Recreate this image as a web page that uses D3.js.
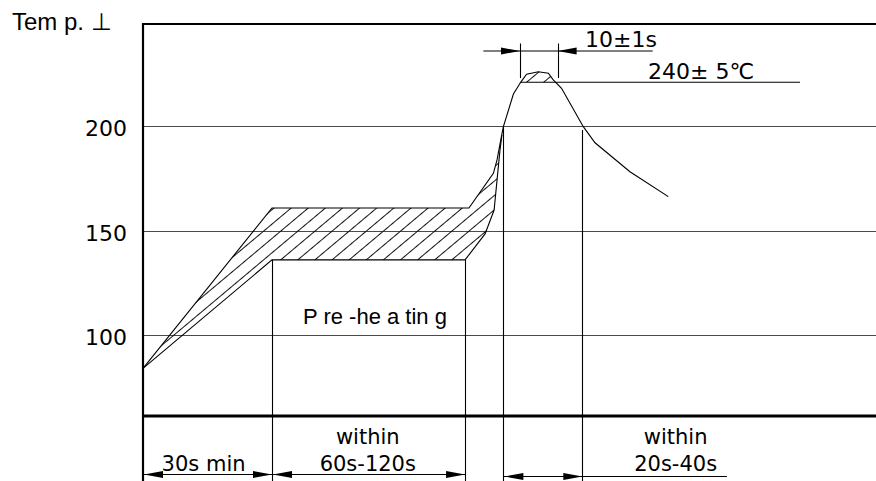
<!DOCTYPE html>
<html><head><meta charset="utf-8">
<script src="https://cdn.jsdelivr.net/npm/d3@7"></script>
<style>
html,body{margin:0;padding:0;background:#fff;}
svg{display:block;}
</style></head><body>
<svg id="chart" width="876" height="481"></svg>
<script>
// ---------------- data (time in s, temperature in °C, schematic) ----------------
const yTicks = [100, 150, 200];
const yTickLabels = ["100", "150", "200"];

// upper boundary of the tolerance band, continuing into the peak curve
const upperTime = [0, 52.8, 133.4, 143.4, 144.9, 146.8, 147.5, 151.6, 154.7, 157.0, 161.8, 165.9, 167.9, 171.3, 180.2, 185.0, 199.3, 215.0];
const upperTemp = [84.2, 160.8, 160.8, 177.3, 183.7, 195.6, 199.6, 215.2, 221.0, 224.6, 225.8, 225.1, 221.9, 217.9, 199.6, 191.9, 178.1, 166.2];
// lower boundary of the tolerance band
const lowerTime = [0, 52.8, 131.8, 140.0, 143.7, 144.9, 146.1, 146.9];
const lowerTemp = [84.2, 136.0, 136.0, 148.4, 159.8, 174.1, 188.4, 195.6];
const bandEndTime = 146.8;

// peak reference level ("240 ± 5 °C") and its leader end
const peakLevel = 220.8;
const peakLineEnd = 268.9;

// phase boundaries (s) and where their extension lines start (°C)
const phaseTimes = [0, 52.8, 131.8, 147.5, 179.8];
const phaseTops  = [null, 136.0, 136.0, 199.6, 198.0];

// dwell at peak ("10 ± 1 s")
const dwellTimes = [154.3, 169.7];
const dwellLevel = 235.7;
const dwellExtTop = 239.3, dwellExtBottom = 222.8;
const dwellLineFrom = 139.3, dwellLineTo = 208.6;

// labels
const yTitle = "Tem p. ⊥";
const preheatLabel = "P re -he a tin g";
const spanTexts = [
  {lines: ["30s min"], center: 24.8},
  {lines: ["within", "60s-120s"], center: 92.0},
  {lines: ["within", "20s-40s"], center: 218.0}
];
const reflowLeaderEnd = 239.0;
const dwellText = "10±1s", dwellTextStart = 180.9;
const peakText = "240± 5℃", peakTextStart = 206.7;

// ---------------- layout ----------------
const W = 876, H = 481;
const plotLeft = 143, plotRight = 876, plotTop = 24, plotBottom = 416;
const svg = d3.select("#chart");

const x = d3.scaleLinear().domain([0, 300]).range([plotLeft, plotRight]);
const y = d3.scaleLinear().domain([61.5, 248.6]).range([plotBottom, plotTop]);

const sans = "'DejaVu Sans', sans-serif";
const arial = "'Liberation Sans', Arial, sans-serif";
const ink = "#000";

// hatch pattern
const defs = svg.append("defs");
const pat = defs.append("pattern").attr("id", "hatch")
  .attr("patternUnits", "userSpaceOnUse").attr("width", 11).attr("height", 11)
  .attr("patternTransform", "rotate(-40)");
pat.append("line").attr("x1", -1).attr("x2", 12).attr("y1", 5.5).attr("y2", 5.5)
  .attr("stroke", "#111").attr("stroke-width", 1);

// grid lines
svg.append("g").selectAll("line").data(yTicks).join("line")
  .attr("x1", plotLeft).attr("x2", plotRight)
  .attr("y1", d => Math.round(y(d)) + 0.5).attr("y2", d => Math.round(y(d)) + 0.5)
  .attr("stroke", "#4a4a4a").attr("stroke-width", 1.2);

// tick labels
svg.append("g").selectAll("text").data(yTicks).join("text")
  .attr("x", plotLeft - 16).attr("y", d => y(d) + 10)
  .attr("text-anchor", "end").attr("font-family", sans).attr("font-size", 22)
  .attr("fill", ink).text((d, i) => yTickLabels[i]);

// y title
svg.append("text").attr("x", 12).attr("y", 30)
  .attr("font-family", arial).attr("font-size", 24).attr("fill", ink).text(yTitle);

const line = d3.line().x(d => x(d[0])).y(d => y(d[1]));
const upperPts = upperTime.map((t, i) => [t, upperTemp[i]]);
const lowerPts = lowerTime.map((t, i) => [t, lowerTemp[i]]);

// hatched tolerance band
const bandPoly = upperPts.filter(p => p[0] <= bandEndTime).concat(lowerPts.slice().reverse());
svg.append("path").attr("d", line(bandPoly) + "Z").attr("fill", "url(#hatch)").attr("stroke", "none");

// hatched cap above peak level
function clipAbove(pts, level) {
  const out = [];
  for (let i = 0; i < pts.length; i++) {
    const p = pts[i];
    if (i > 0) {
      const q = pts[i - 1];
      if ((q[1] - level) * (p[1] - level) < 0) {
        const f = (level - q[1]) / (p[1] - q[1]);
        out.push([q[0] + f * (p[0] - q[0]), level]);
      }
    }
    if (p[1] >= level) out.push(p);
  }
  return out;
}
const cap = clipAbove(upperPts, peakLevel);
svg.append("path").attr("d", line(cap) + "Z").attr("fill", "url(#hatch)").attr("stroke", "none");

// outlines
svg.append("path").attr("d", line(upperPts)).attr("fill", "none").attr("stroke", ink).attr("stroke-width", 1.1);
svg.append("path").attr("d", line(lowerPts)).attr("fill", "none").attr("stroke", ink).attr("stroke-width", 1.1);

// peak reference line
svg.append("line").attr("x1", x(cap[0][0])).attr("x2", x(peakLineEnd))
  .attr("y1", y(peakLevel)).attr("y2", y(peakLevel)).attr("stroke", ink).attr("stroke-width", 1.2);

// extension lines of phases (down through the axis)
const extBottom = H;
phaseTimes.forEach((t, i) => {
  if (phaseTops[i] === null) return;
  svg.append("line").attr("x1", Math.round(x(t)) + 0.5).attr("x2", Math.round(x(t)) + 0.5)
    .attr("y1", y(phaseTops[i])).attr("y2", extBottom).attr("stroke", ink).attr("stroke-width", 1.1);
});

// frame
svg.append("line").attr("x1", plotLeft).attr("x2", plotLeft).attr("y1", plotTop - 1).attr("y2", extBottom)
  .attr("stroke", ink).attr("stroke-width", 2.2);
svg.append("line").attr("x1", plotLeft - 1).attr("x2", plotRight).attr("y1", plotTop).attr("y2", plotTop)
  .attr("stroke", ink).attr("stroke-width", 2);
svg.append("line").attr("x1", plotLeft - 1).attr("x2", plotRight).attr("y1", plotBottom).attr("y2", plotBottom)
  .attr("stroke", ink).attr("stroke-width", 3);

// arrowheads
function arrow(tipX, yy, dir) {
  const len = 19, hw = 3.5;
  const bx = tipX - dir * len;
  svg.append("path").attr("d", `M${tipX},${yy}L${bx},${yy - hw}L${bx},${yy + hw}Z`).attr("fill", ink);
}

// bottom dimension lines
const dimY1 = 474.5, dimY2 = 476.5;
svg.append("line").attr("x1", x(phaseTimes[0])).attr("x2", x(phaseTimes[2]))
  .attr("y1", dimY1).attr("y2", dimY1).attr("stroke", ink).attr("stroke-width", 1.1);
arrow(x(phaseTimes[0]) + 1, dimY1, -1);
arrow(x(phaseTimes[1]), dimY1, 1);
arrow(x(phaseTimes[1]) + 1, dimY1, -1);
arrow(x(phaseTimes[2]), dimY1, 1);

svg.append("line").attr("x1", x(phaseTimes[3])).attr("x2", x(reflowLeaderEnd))
  .attr("y1", dimY2).attr("y2", dimY2).attr("stroke", ink).attr("stroke-width", 1.1);
arrow(x(phaseTimes[3]) + 1, dimY2, -1);
arrow(x(phaseTimes[4]), dimY2, 1);

// span labels
const baseL2 = 471, baseL1 = 444;
spanTexts.forEach(s => {
  s.lines.forEach((txt, j) => {
    const yy = s.lines.length === 1 ? baseL2 : (j === 0 ? baseL1 : baseL2);
    svg.append("text").attr("x", x(s.center)).attr("y", yy).attr("text-anchor", "middle")
      .attr("font-family", sans).attr("font-size", 21).attr("fill", ink).text(txt);
  });
});

// dwell dimension at the peak
dwellTimes.forEach(t => {
  svg.append("line").attr("x1", Math.round(x(t)) + 0.5).attr("x2", Math.round(x(t)) + 0.5)
    .attr("y1", y(dwellExtTop)).attr("y2", y(dwellExtBottom)).attr("stroke", ink).attr("stroke-width", 1.1);
});
svg.append("line").attr("x1", x(dwellLineFrom)).attr("x2", x(dwellLineTo))
  .attr("y1", y(dwellLevel)).attr("y2", y(dwellLevel)).attr("stroke", ink).attr("stroke-width", 1.1);
arrow(x(dwellTimes[0]), y(dwellLevel), 1);
arrow(x(dwellTimes[1]), y(dwellLevel), -1);

svg.append("text").attr("x", x(dwellTextStart)).attr("y", 46.7)
  .attr("font-family", sans).attr("font-size", 22).attr("fill", ink).text(dwellText);
svg.append("text").attr("x", x(peakTextStart)).attr("y", 79.3)
  .attr("font-family", sans).attr("font-size", 22).attr("fill", ink).text(peakText);

// pre-heating label
svg.append("text").attr("x", x(65.5)).attr("y", y(y.invert(324)))
  .attr("font-family", arial).attr("font-size", 22).attr("fill", ink).text(preheatLabel);
</script>
</body></html>
